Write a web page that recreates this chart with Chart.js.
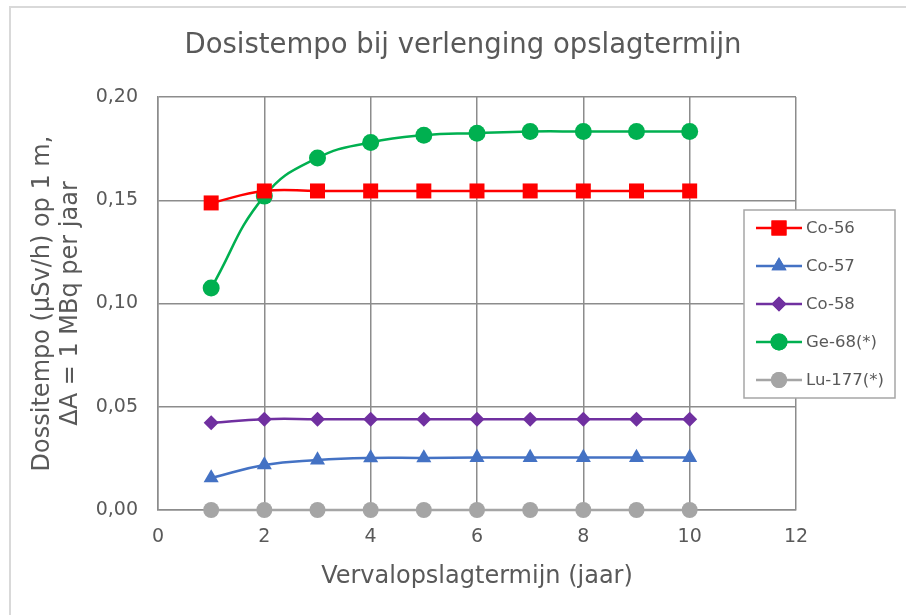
<!DOCTYPE html>
<html>
<head>
<meta charset="utf-8">
<script src="https://cdn.jsdelivr.net/npm/chart.js@4.4.1/dist/chart.umd.min.js"></script>
<style>
  html, body { margin: 0; padding: 0; background: #fff; }
  #wrap { width: 906px; height: 615px; }
</style>
</head>
<body>
<div id="wrap"><canvas id="doseChart" width="906" height="615"></canvas></div>
<script>
// jaren opslag
const years = [1, 2, 3, 4, 5, 6, 7, 8, 9, 10];

// dosistempo (µSv/h) per nuclide
const co56 = [0.1487, 0.1545, 0.1545, 0.1545, 0.1545, 0.1545, 0.1545, 0.1545, 0.1545, 0.1545];
const co57 = [0.0155, 0.0218, 0.0242, 0.0252, 0.0252, 0.0254, 0.0254, 0.0254, 0.0254, 0.0254];
const co58 = [0.0422, 0.0440, 0.0440, 0.0440, 0.0440, 0.0440, 0.0440, 0.0440, 0.0440, 0.0440];
const ge68 = [0.1075, 0.1520, 0.1705, 0.1780, 0.1815, 0.1825, 0.1833, 0.1833, 0.1833, 0.1833];
const lu177 = [0, 0, 0, 0, 0, 0, 0, 0, 0, 0];

const seriesNames = ['Co-56', 'Co-57', 'Co-58', 'Ge-68(*)', 'Lu-177(*)'];
const xTicks = [0, 2, 4, 6, 8, 10, 12];
const yTicks = [0, 0.05, 0.10, 0.15, 0.20];
const chartTitle = 'Dosistempo bij verlenging opslagtermijn';

const textColor = '#595959';
const gridColor = '#8c8c8c';
const fontFam = '"DejaVu Sans", Verdana, sans-serif';

function makeSet(label, values, color, style, radius) {
  return {
    label: label,
    data: years.map((x, i) => ({ x: x, y: values[i] })),
    borderColor: color,
    backgroundColor: color,
    borderWidth: 2.5,
    pointStyle: style,
    pointRadius: radius,
    pointHoverRadius: radius,
    pointBorderWidth: 0,
    tension: 0.45,
    clip: false
  };
}

const datasets = [
  makeSet(seriesNames[0], co56, '#ff0000', 'rect', 10.6),
  makeSet(seriesNames[1], co57, '#4472c4', 'triangle', 8.7),
  makeSet(seriesNames[2], co58, '#7030a0', 'rectRot', 7.5),
  makeSet(seriesNames[3], ge68, '#00b050', 'circle', 8.5),
  makeSet(seriesNames[4], lu177, '#a5a5a5', 'circle', 8)
];

// rand om de hele grafiek + titel
const frameAndTitle = {
  id: 'frameAndTitle',
  beforeDraw(chart) {
    const ctx = chart.ctx;
    ctx.save();
    ctx.strokeStyle = '#d9d9d9';
    ctx.lineWidth = 2;
    ctx.beginPath();
    ctx.moveTo(10, 615);
    ctx.lineTo(10, 7);
    ctx.lineTo(906, 7);
    ctx.stroke();
    ctx.fillStyle = textColor;
    ctx.font = '27.5px ' + fontFam;
    ctx.textAlign = 'center';
    ctx.textBaseline = 'alphabetic';
    ctx.fillText(chartTitle, 463, 53);
    ctx.restore();
  }
};

// legenda in een kader over de plot heen
const boxLegend = {
  id: 'boxLegend',
  afterDraw(chart) {
    const ctx = chart.ctx;
    const bx = 744, by = 210, bw = 151, bh = 188;
    ctx.save();
    ctx.fillStyle = '#fff';
    ctx.fillRect(bx, by, bw, bh);
    ctx.strokeStyle = '#a6a6a6';
    ctx.lineWidth = 1.5;
    ctx.strokeRect(bx, by, bw, bh);
    chart.data.datasets.forEach((ds, i) => {
      const y = 228 + i * 38;
      ctx.strokeStyle = ds.borderColor;
      ctx.lineWidth = 2.5;
      ctx.beginPath();
      ctx.moveTo(756, y);
      ctx.lineTo(802, y);
      ctx.stroke();
      ctx.fillStyle = ds.backgroundColor;
      Chart.helpers.drawPoint(ctx, { pointStyle: ds.pointStyle, radius: ds.pointRadius, borderWidth: 0 }, 779, y);
      ctx.fill();
      ctx.fillStyle = textColor;
      ctx.font = '16.5px ' + fontFam;
      ctx.textBaseline = 'middle';
      ctx.textAlign = 'left';
      ctx.fillText(ds.label, 806, y + 1);
    });
    ctx.restore();
  }
};

new Chart(document.getElementById('doseChart'), {
  type: 'line',
  data: { datasets: datasets },
  options: {
    responsive: false,
    animation: false,
    layout: { padding: { top: 97, left: 10, right: 110, bottom: 20 } },
    plugins: {
      legend: { display: false },
      tooltip: { enabled: false },
      title: { display: false }
    },
    scales: {
      x: {
        type: 'linear',
        min: 0,
        max: 12,
        afterBuildTicks: (scale) => { scale.ticks = xTicks.map(v => ({ value: v })); },
        afterFit: (scale) => { scale.height = 85; },
        ticks: {
          color: textColor,
          padding: 16,
          font: { family: fontFam, size: 19 }
        },
        grid: { color: gridColor, lineWidth: 1.5, drawTicks: false },
        border: { color: gridColor, width: 1.5 },
        title: {
          display: true,
          text: 'Vervalopslagtermijn (jaar)',
          color: textColor,
          font: { family: fontFam, size: 24, lineHeight: 1.2 },
          padding: { top: 0, bottom: 4 }
        }
      },
      y: {
        min: 0,
        max: 0.2,
        afterBuildTicks: (scale) => { scale.ticks = yTicks.map(v => ({ value: v })); },
        afterFit: (scale) => { scale.width = 148; },
        ticks: {
          color: textColor,
          padding: 20,
          font: { family: fontFam, size: 19 },
          callback: (v) => v.toFixed(2).replace('.', ',')
        },
        grid: { color: gridColor, lineWidth: 1.5, drawTicks: false },
        border: { color: gridColor, width: 1.5 },
        title: {
          display: true,
          text: ['Dossitempo (µSv/h) op 1 m,', 'ΔA = 1 MBq per jaar'],
          color: textColor,
          font: { family: fontFam, size: 24, lineHeight: 1.2 },
          padding: { top: 18, bottom: 0 }
        }
      }
    }
  },
  plugins: [frameAndTitle, boxLegend]
});
</script>
</body>
</html>
